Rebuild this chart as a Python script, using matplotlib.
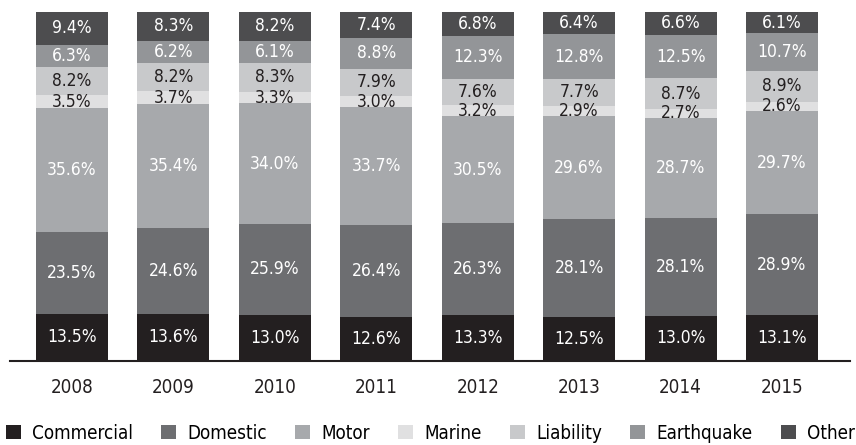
import numpy as np
import matplotlib.pyplot as plt
from matplotlib import font_manager

# find a narrow / condensed font if one is installed
narrow = None
for f in font_manager.fontManager.ttflist:
    low = (f.name + ' ' + f.fname).lower()
    if ('narrow' in low or 'condensed' in low) and f.weight in (400, 'normal', 'regular') \
            and f.style == 'normal' and 'semi' not in low and 'extra' not in low:
        narrow = f
        break

if narrow is not None:
    plt.rcParams['font.family'] = [narrow.name, 'DejaVu Sans']
    plt.rcParams['font.stretch'] = narrow.stretch
    fs_lab, fs_tick = 12.5, 13.5
else:
    plt.rcParams['font.family'] = ['Liberation Sans', 'DejaVu Sans']
    fs_lab, fs_tick = 11, 12

years = ['2008', '2009', '2010', '2011', '2012', '2013', '2014', '2015']
commercial = [13.5, 13.6, 13.0, 12.6, 13.3, 12.5, 13.0, 13.1]
domestic = [23.5, 24.6, 25.9, 26.4, 26.3, 28.1, 28.1, 28.9]
motor = [35.6, 35.4, 34.0, 33.7, 30.5, 29.6, 28.7, 29.7]
marine = [3.5, 3.7, 3.3, 3.0, 3.2, 2.9, 2.7, 2.6]
liability = [8.2, 8.2, 8.3, 7.9, 7.6, 7.7, 8.7, 8.9]
earthquake = [6.3, 6.2, 6.1, 8.8, 12.3, 12.8, 12.5, 10.7]
other = [9.4, 8.3, 8.2, 7.4, 6.8, 6.4, 6.6, 6.1]

series = [
    ('Commercial', commercial, '#231f20', 'white'),
    ('Domestic', domestic, '#6d6e71', 'white'),
    ('Motor', motor, '#a7a9ac', 'white'),
    ('Marine', marine, '#e0e0e1', '#231f20'),
    ('Liability', liability, '#c8c9cb', '#231f20'),
    ('Earthquake', earthquake, '#939598', 'white'),
    ('Other', other, '#4d4d4f', 'white'),
]

fig = plt.figure(figsize=(8.56, 4.45), dpi=100)
ax = fig.add_axes([10/856, 84/445, 840/856, 349/445])

x = np.arange(len(years))
totals = np.sum([s[1] for s in series], axis=0)
bottom = np.zeros(len(years))
for name, vals, col, tcol in series:
    vals = np.array(vals)
    h = vals / totals * 100  # bars are shown as 100% stacks
    ax.bar(x, h, bottom=bottom, width=0.71, color=col, label=name, linewidth=0)
    for xi, b, hh, v in zip(x, bottom, h, vals):
        ax.text(xi, b + hh / 2, f'{v:.1f}%', ha='center', va='center',
                color=tcol, fontsize=fs_lab)
    bottom += h

ax.set_xlim(-0.61, 7.67)
ax.set_ylim(0, 100)
for s in ['top', 'right', 'left']:
    ax.spines[s].set_visible(False)
ax.spines['bottom'].set_linewidth(1.5)
ax.spines['bottom'].set_color('#231f20')
ax.set_yticks([])
ax.set_xticks(x)
ax.set_xticklabels(years, fontsize=fs_tick, color='#231f20')
ax.tick_params(axis='x', length=0, pad=12)

fig.legend(loc='lower left', bbox_to_anchor=(-0.002, -0.012), ncol=7, frameon=False,
           fontsize=fs_tick, handlelength=0.8, handleheight=0.8, handletextpad=0.6,
           columnspacing=1.5, borderaxespad=0)

fig.savefig('out.png', dpi=100)
